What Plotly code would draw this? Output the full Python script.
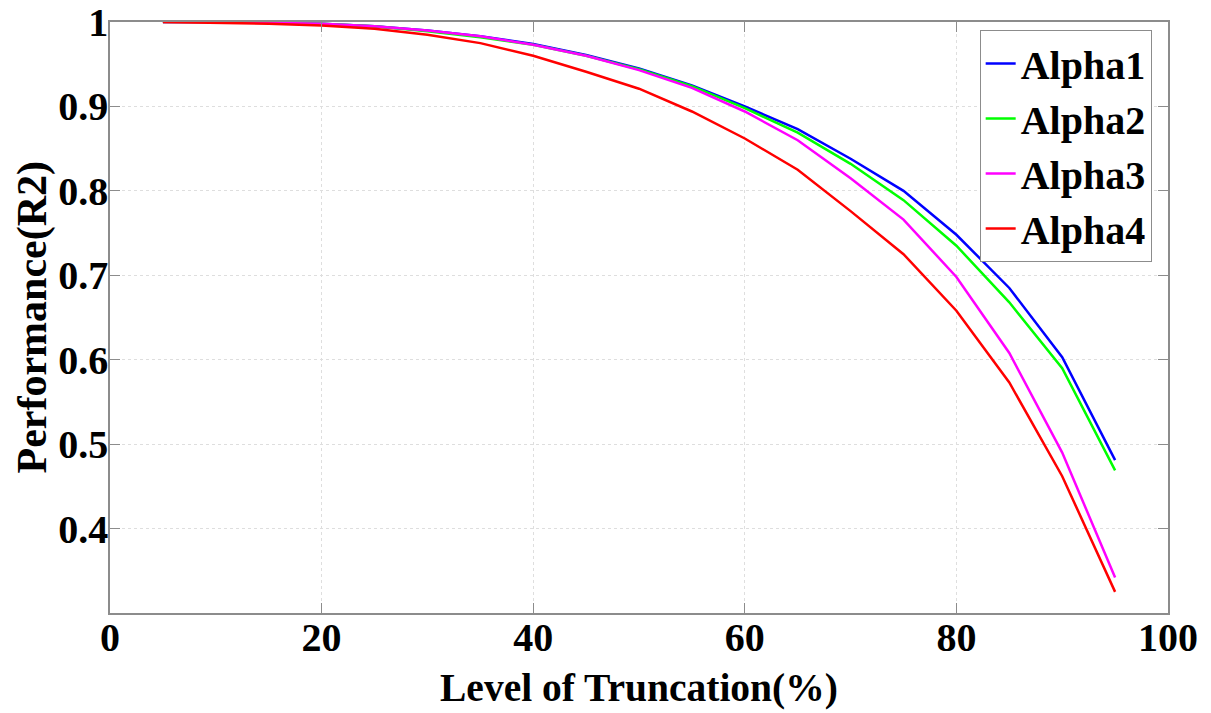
import plotly.graph_objects as go

truncation = [5, 10, 15, 20, 25, 30, 35, 40, 45, 50, 55, 60, 65, 70, 75, 80, 85, 90, 95]
alpha1 = [1.000, 1.000, 0.999, 0.998, 0.995, 0.990, 0.983, 0.974, 0.961, 0.945, 0.925, 0.900, 0.873, 0.838, 0.800, 0.748, 0.685, 0.603, 0.481]
alpha2 = [1.000, 1.000, 0.999, 0.998, 0.995, 0.989, 0.982, 0.973, 0.960, 0.944, 0.924, 0.898, 0.869, 0.832, 0.789, 0.735, 0.668, 0.590, 0.469]
alpha3 = [1.000, 1.000, 0.999, 0.998, 0.995, 0.990, 0.983, 0.973, 0.960, 0.943, 0.922, 0.894, 0.860, 0.815, 0.766, 0.698, 0.608, 0.490, 0.342]
alpha4 = [1.000, 0.999, 0.998, 0.996, 0.992, 0.985, 0.975, 0.960, 0.941, 0.921, 0.894, 0.862, 0.825, 0.776, 0.725, 0.658, 0.573, 0.462, 0.325]

series_names = ["Alpha1", "Alpha2", "Alpha3", "Alpha4"]
series_colors = ["#0000ff", "#00ff00", "#ff00ff", "#ff0000"]
x_ticks = [0, 20, 40, 60, 80, 100]
y_ticks = [0.4, 0.5, 0.6, 0.7, 0.8, 0.9, 1.0]
y_tick_text = ["0.4", "0.5", "0.6", "0.7", "0.8", "0.9", "1"]

FONT = "Liberation Serif"

fig = go.Figure()
for name, vals, col in zip(series_names, [alpha1, alpha2, alpha3, alpha4], series_colors):
    fig.add_trace(go.Scatter(x=truncation, y=vals, mode="lines", name=name,
                             line=dict(color=col, width=2.5)))

axis_common = dict(
    showline=True, linecolor="#8c8c8c", linewidth=1.5, mirror="ticks",
    ticks="inside", ticklen=10, tickcolor="#8c8c8c", tickwidth=1,
    showgrid=True, gridcolor="#dedede", griddash="dot", gridwidth=1,
    zeroline=False, automargin=False, ticklabeloverflow="allow",
    tickfont=dict(family=FONT, size=40, color="black", weight="bold"),
)

fig.update_xaxes(range=[0, 100], tickvals=x_ticks, ticklabelstandoff=-12, **axis_common)
fig.update_yaxes(range=[0.3, 1.0], tickvals=y_ticks, ticktext=y_tick_text,
                 ticklabelstandoff=-8, **axis_common)

fig.update_layout(
    width=1203, height=705,
    margin=dict(l=102, r=43, t=14, b=100, autoexpand=False),
    paper_bgcolor="white", plot_bgcolor="white",
    showlegend=True,
    legend=dict(
        x=0.822, y=0.9865, xanchor="left", yanchor="top",
        bgcolor="white", bordercolor="#8c8c8c", borderwidth=1,
        font=dict(family=FONT, size=40, color="black", weight="bold"),
        tracegroupgap=0,
    ),
    annotations=[
        dict(text="Level of Truncation(%)", xref="paper", yref="paper",
             x=0.5, y=-0.127, xanchor="center", yanchor="middle", showarrow=False,
             font=dict(family=FONT, size=39.5, color="black", weight="bold")),
        dict(text="Performance(R2)", xref="paper", yref="paper",
             x=-0.0737, y=0.5, xanchor="center", yanchor="middle", showarrow=False,
             textangle=-90,
             font=dict(family=FONT, size=42, color="black", weight="bold")),
    ],
)

fig.write_html("out.html")
